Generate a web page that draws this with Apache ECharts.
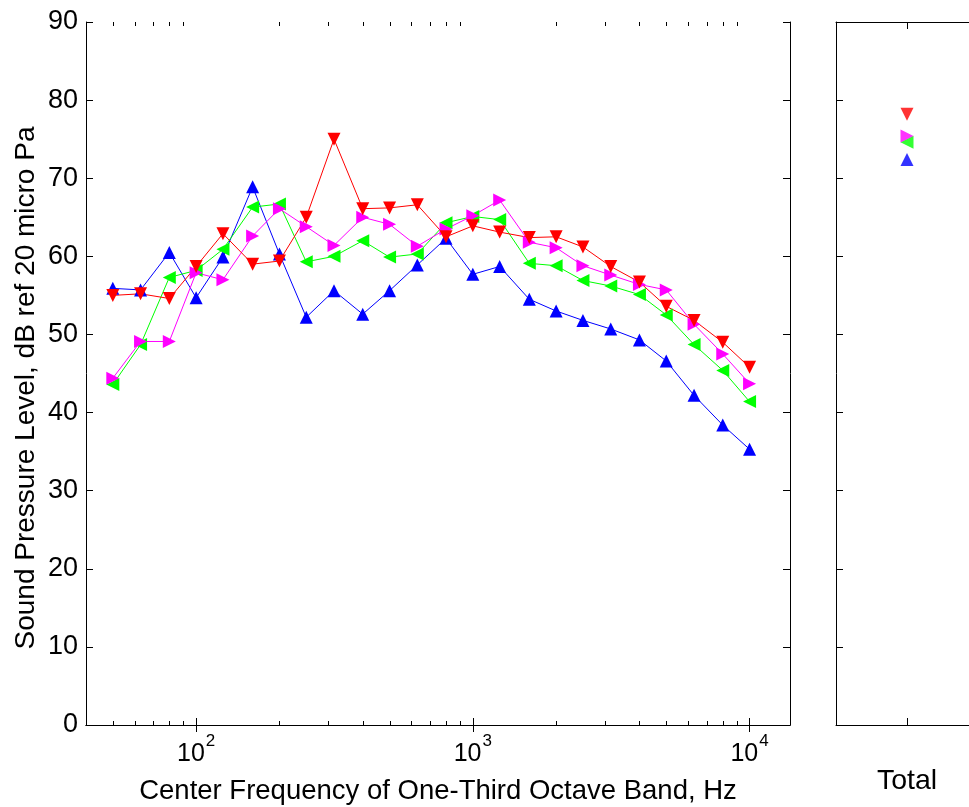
<!DOCTYPE html>
<html>
<head>
<meta charset="utf-8">
<script src="https://cdn.jsdelivr.net/npm/echarts@6/dist/echarts.min.js"></script>
<style>
html,body{margin:0;padding:0;background:#fff;}
#chart{width:969px;height:807px;}
</style>
</head>
<body>
<div id="chart"></div>
<script>
// One-third octave band centre frequencies (Hz)
const freqs = [50,63,80,100,125,160,200,250,315,400,500,630,800,1000,1250,1600,2000,2500,3150,4000,5000,6300,8000,10000];
// Sound pressure levels, dB ref 20 micro Pa
const redVals = [55.0,55.2,54.6,58.7,62.9,59.0,59.4,65.0,75.0,66.1,66.2,66.6,62.5,63.9,63.1,62.4,62.5,61.2,58.7,56.7,53.6,51.8,49.0,45.8];
const magentaVals = [44.4,49.1,49.1,57.9,57.0,62.6,66.1,63.8,61.4,65.0,64.1,61.3,63.5,65.2,67.2,61.8,61.1,58.8,57.6,56.4,55.7,51.3,47.5,43.7];
const greenVals = [43.6,48.7,57.3,58.2,60.9,66.3,66.7,59.3,60.0,62.0,59.9,60.3,64.3,65.1,64.7,59.1,58.8,56.9,56.2,55.1,52.5,48.7,45.4,41.4];
const blueVals = [55.9,55.7,60.5,54.7,59.9,68.9,60.3,52.2,55.6,52.6,55.6,58.9,62.3,57.7,58.7,54.5,53.0,51.8,50.7,49.3,46.6,42.2,38.4,35.3];
// Overall (Total) levels
const totalCategory = ['Total'];
const totalRed = 78.2, totalMagenta = 75.4, totalGreen = 74.6, totalBlue = 72.4;
// Tick values
const majorTicks = [100,1000,10000];
const minorTicks = [50,60,70,80,90,200,300,400,500,600,700,800,900,2000,3000,4000,5000,6000,7000,8000,9000];
const yTicks = {min:0, max:90, interval:10};
const xTitle = 'Center Frequency of One-Third Octave Band, Hz';
const yTitle = 'Sound Pressure Level, dB ref 20 micro Pa';

const FONT = '"Liberation Sans", Arial, sans-serif';
const axisLineStyle = {show:true, lineStyle:{color:'#000', width:1}};

function pair(xs, ys){ return xs.map((x,i)=>[x, ys[i]]); }

const supFmt = function(v){
  const e = Math.round(Math.log10(v));
  return '{b|10}{s|' + e + '}';
};

function logAxis(pos, labels){
  return {
    type:'log', logBase:10, gridIndex:0, position:pos, min:40, max:14000,
    axisLine: axisLineStyle,
    axisTick:{show:true, inside:true, length:7, customValues:majorTicks, lineStyle:{color:'#000'}},
    axisLabel: labels ? {
      show:true, customValues:majorTicks, formatter:supFmt, margin:8,
      rich:{
        b:{fontFamily:FONT, fontSize:25, color:'#000', verticalAlign:'bottom', lineHeight:34},
        s:{fontFamily:FONT, fontSize:17, color:'#000', verticalAlign:'top', lineHeight:34, padding:[0,0,0,1]}
      }
    } : {show:false},
    splitLine:{show:false}, minorTick:{show:false},
    name: labels ? xTitle : '',
    nameLocation:'middle', nameGap:52,
    nameTextStyle:{fontFamily:FONT, fontSize:27.5, color:'#000'}
  };
}

function yAxisDef(grid, pos, labels, show){
  return {type:'value', gridIndex:grid, position:pos, min:yTicks.min, max:yTicks.max, interval:yTicks.interval,
    show: show,
    axisLine:axisLineStyle,
    axisTick:{show:true, inside:true, length:7, lineStyle:{color:'#000'}},
    axisLabel: labels ? {show:true, fontFamily:FONT, fontSize:27, color:'#000', margin:8} : {show:false},
    splitLine:{show:false}};
}

const option = {
  backgroundColor:'#fff',
  animation:false,
  grid:[
    {left:86, top:22, width:704, height:703, containLabel:false, outerBoundsMode:'none', show:false},
    {left:836, top:22, width:142, height:703, containLabel:false, outerBoundsMode:'none', show:false}
  ],
  xAxis:[
    logAxis('bottom', true),
    logAxis('top', false),
    {type:'category', gridIndex:1, position:'bottom', data:totalCategory, boundaryGap:true,
     axisLine:axisLineStyle,
     axisTick:{show:true, inside:true, alignWithLabel:true, length:7, lineStyle:{color:'#000'}},
     axisLabel:{show:true, fontFamily:FONT, fontSize:28.5, color:'#000', margin:42},
     splitLine:{show:false}},
    {type:'category', gridIndex:1, position:'top', data:totalCategory, boundaryGap:true,
     axisLine:axisLineStyle,
     axisTick:{show:true, inside:true, alignWithLabel:true, length:7, lineStyle:{color:'#000'}},
     axisLabel:{show:false}, splitLine:{show:false}}
  ],
  yAxis:[
    yAxisDef(0, 'left', true, true),
    yAxisDef(0, 'right', false, true),
    yAxisDef(1, 'left', false, true)
  ],
  graphic:[
    {type:'text', x:26, y:388, rotation:Math.PI/2,
     style:{text:yTitle, fontFamily:FONT, fontSize:28, fill:'#000', align:'center', verticalAlign:'middle'},
     silent:true}
  ],
  series:[]
};

// minor ticks on the log axis (bottom and top), placed through the axis scale
option.series.push({
  type:'custom', name:'minor ticks', xAxisIndex:0, yAxisIndex:0,
  data: minorTicks.map(v=>[v, yTicks.min]),
  encode:{x:0, y:1}, silent:true, clip:false, z:1,
  renderItem:function(params, api){
    const v = api.value(0);
    const pb = api.coord([v, yTicks.min]);
    const pt = api.coord([v, yTicks.max]);
    const x = Math.round(pb[0]) + 0.5;
    return {type:'group', children:[
      {type:'line', shape:{x1:x, y1:pb[1], x2:x, y2:pb[1]-4}, style:{stroke:'#000', lineWidth:1}},
      {type:'line', shape:{x1:x, y1:pt[1], x2:x, y2:pt[1]+4}, style:{stroke:'#000', lineWidth:1}}
    ]};
  }
});

const specs = [
  {name:'blue', color:'#0000ff', rot:0, vals:blueVals, total:totalBlue},
  {name:'green', color:'#00ff00', rot:90, vals:greenVals, total:totalGreen},
  {name:'magenta', color:'#ff00ff', rot:-90, vals:magentaVals, total:totalMagenta},
  {name:'red', color:'#ff0000', rot:180, vals:redVals, total:totalRed}
];
specs.forEach(s=>{
  option.series.push({
    type:'line', name:s.name, xAxisIndex:0, yAxisIndex:0,
    data:pair(freqs, s.vals),
    symbol:'triangle', symbolSize:13, symbolRotate:s.rot, showAllSymbol:true,
    lineStyle:{color:s.color, width:1},
    itemStyle:{color:s.color},
    emphasis:{disabled:true}, silent:true
  });
});
specs.forEach(s=>{
  option.series.push({
    type:'scatter', name:s.name+' total', xAxisIndex:2, yAxisIndex:2,
    data:[[totalCategory[0], s.total]],
    symbol:'triangle', symbolSize:13, symbolRotate:s.rot,
    itemStyle:{color:s.color}, silent:true
  });
});

const chart = echarts.init(document.getElementById('chart'), null, {renderer:'canvas'});
chart.setOption(option);
</script>
</body>
</html>
